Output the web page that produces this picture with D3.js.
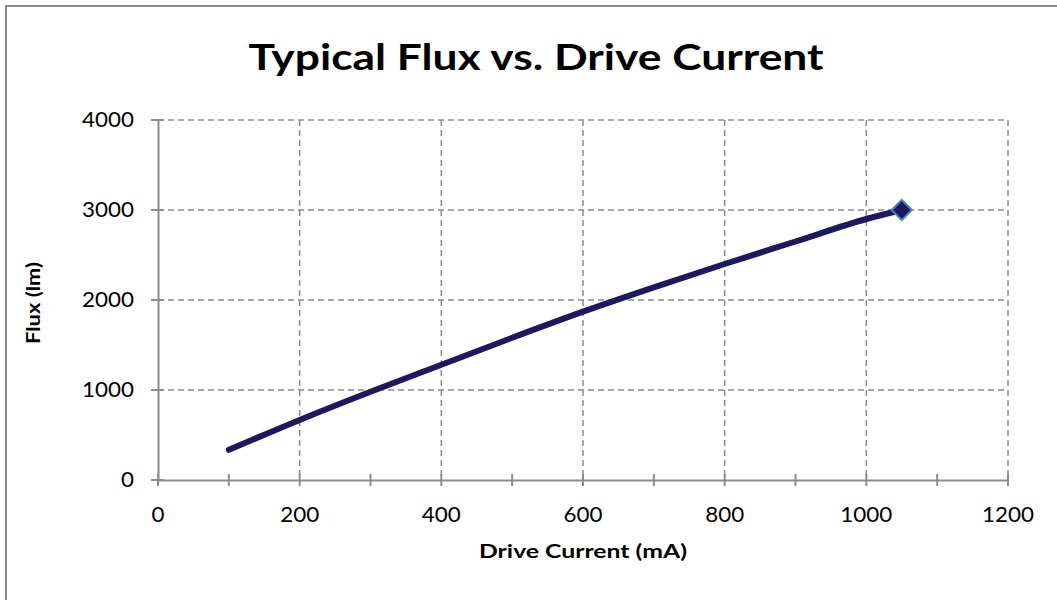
<!DOCTYPE html>
<html><head><meta charset="utf-8">
<script src="https://cdn.jsdelivr.net/npm/d3@7"></script>
<style>body{margin:0;background:#fff}svg{display:block}</style>
</head><body>
<svg id="c" width="1057" height="600"></svg>
<script>
const currents = [100, 200, 300, 400, 500, 600, 700, 800, 900, 1000, 1050];
const flux = [335, 667, 980, 1280, 1580, 1870, 2140, 2400, 2650, 2900, 3000];
const xTicks = [0, 200, 400, 600, 800, 1000, 1200];
const xMinor = [0, 100, 200, 300, 400, 500, 600, 700, 800, 900, 1000, 1100, 1200];
const yTicks = [0, 1000, 2000, 3000, 4000];
const title = "Typical Flux vs. Drive Current";
const xTitle = "Drive Current (mA)";
const yTitle = "Flux (lm)";

const svg = d3.select("#c");
const font = "Lato, 'Open Sans', sans-serif";
const x = d3.scaleLinear().domain([0, 1200]).range([158, 1008]);
const y = d3.scaleLinear().domain([0, 4000]).range([480, 120]);

svg.append("rect").attr("x", 6).attr("y", 6).attr("width", 1100).attr("height", 700)
  .attr("fill", "none").attr("stroke", "#898989").attr("stroke-width", 2);

const grid = svg.append("g").attr("stroke", "#8c8c8c").attr("stroke-width", 1.5).attr("stroke-dasharray", "6,4");
grid.selectAll(".v").data(xTicks.filter(d => d > 0)).join("line")
  .attr("x1", d => x(d)).attr("x2", d => x(d)).attr("y1", y(4000)).attr("y2", y(0));
grid.selectAll(".h").data(yTicks.filter(d => d > 0)).join("line")
  .attr("x1", x(0)).attr("x2", x(1200)).attr("y1", d => y(d)).attr("y2", d => y(d));

// axes
const xa = svg.append("g").attr("transform", `translate(0,${y(0)})`)
  .call(d3.axisBottom(x).tickValues(xMinor).tickSize(0).tickFormat(""));
xa.select(".domain").attr("stroke", "#8c8c8c").attr("stroke-width", 2);
xa.selectAll(".tick line").remove();
svg.append("g").selectAll("line").data(xMinor).join("line")
  .attr("x1", d => x(d)).attr("x2", d => x(d)).attr("y1", y(0) - 6).attr("y2", y(0) + 6)
  .attr("stroke", "#8c8c8c").attr("stroke-width", 2);
svg.append("g").selectAll("text").data(xTicks).join("text")
  .attr("x", d => x(d)).attr("y", 522).attr("text-anchor", "middle")
  .attr("font-family", font).attr("font-size", 21).attr("fill", "#000")
  .attr("textLength", d => String(d).length * 13).attr("lengthAdjust", "spacingAndGlyphs").text(d => d);

const ya = svg.append("g").attr("transform", `translate(${x(0)},0)`)
  .call(d3.axisLeft(y).tickValues(yTicks).tickSize(0).tickFormat(""));
ya.select(".domain").attr("stroke", "#8c8c8c").attr("stroke-width", 2);
ya.selectAll(".tick line").remove();
svg.append("g").selectAll("line").data(yTicks).join("line")
  .attr("x1", x(0) - 7).attr("x2", x(0) + 6).attr("y1", d => y(d)).attr("y2", d => y(d))
  .attr("stroke", "#8c8c8c").attr("stroke-width", 2);
svg.append("g").selectAll("text").data(yTicks).join("text")
  .attr("x", 134).attr("y", d => y(d) + 7).attr("text-anchor", "end")
  .attr("font-family", font).attr("font-size", 21).attr("fill", "#000")
  .attr("textLength", d => String(d).length * 13).attr("lengthAdjust", "spacingAndGlyphs").text(d => d);

// line
const pts = currents.map((c, i) => [c, flux[i]]);
svg.append("path").datum(pts)
  .attr("d", d3.line().x(d => x(d[0])).y(d => y(d[1])).curve(d3.curveMonotoneX))
  .attr("fill", "none").attr("stroke", "#1c1a5c").attr("stroke-width", 6).attr("stroke-linecap", "round");
const last = pts[pts.length - 1];
svg.append("path").attr("d", d3.symbol(d3.symbolDiamond2, 260)())
  .attr("transform", `translate(${x(last[0])},${y(last[1])})`)
  .attr("fill", "#1c1a5c").attr("stroke", "#4f81bd").attr("stroke-width", 2);

// titles
svg.append("text").attr("x", 536).attr("y", 70).attr("text-anchor", "middle")
  .attr("font-family", font).attr("font-weight", "bold").attr("font-size", 36)
  .attr("textLength", 575).attr("lengthAdjust", "spacingAndGlyphs").text(title);
svg.append("text").attr("x", 583).attr("y", 558).attr("text-anchor", "middle")
  .attr("font-family", font).attr("font-weight", "bold").attr("font-size", 19)
  .attr("textLength", 208).attr("lengthAdjust", "spacingAndGlyphs").text(xTitle);
svg.append("text").attr("transform", "translate(40,303) rotate(-90)").attr("text-anchor", "middle")
  .attr("font-family", font).attr("font-weight", "bold").attr("font-size", 19)
  .attr("textLength", 82).attr("lengthAdjust", "spacingAndGlyphs").text(yTitle);
</script>
</body></html>
